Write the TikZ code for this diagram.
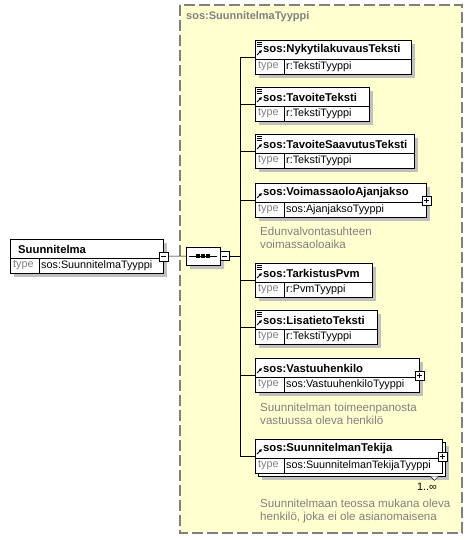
\documentclass[tikz,border=0pt]{standalone}
\usepackage{fontspec}
\setmainfont{Liberation Sans}
\usetikzlibrary{arrows.meta,shapes.misc}
\definecolor{schemayellow}{RGB}{255,255,208}
\definecolor{schemagray}{RGB}{128,128,128}
\definecolor{shadowgray}{RGB}{192,192,192}
% [style] name, x, y, width
\newcommand\schemaelem[5][elembox]{%
  \node[#1,minimum width=#5pt] (#2) at (#3,#4) {};
  \draw ([yshift=-19pt]#2.north west) -- ([yshift=-19pt]#2.north east);
  \draw ([shift={(29pt,-19pt)}]#2.north west) -- ([xshift=29pt]#2.south west);
}
% x, y, width
\newcommand\schemashadow[3]{%
  \fill[shadowgray] ({#1+4},{#2+4}) rectangle ++(#3,34);
}
\newcommand\schemalabels[3]{%
  \node[titletext] at ([shift={(8pt,-10pt)}]#1.north west) {#2};
  \node[typelabel] at ([shift={(3pt,-26.5pt)}]#1.north west) {type};
  \node[typetext] at ([shift={(31pt,-26.5pt)}]#1.north west) {#3};
}
\newcommand\simpleicon[1]{%
  \foreach \dy in {2,4,6}
    \draw[line width=0.7pt] ([shift={(2pt,-\dy pt)}]#1.north west) -- ++(5pt,0);
}
\newcommand\refarrow[1]{%
  \draw[line width=1pt,-{Latex[length=3pt,width=3.5pt]}] ([shift={(2pt,-15pt)}]#1.north west) -- ++(5pt,5pt);
}

\begin{document}
\begin{tikzpicture}[x=1pt,y=-1pt,line join=miter,
  elembox/.style={draw,fill=white,anchor=north west,minimum height=34pt,inner sep=0pt},
  titletext/.style={anchor=west,inner sep=0pt,font=\bfseries\fontsize{11.3}{13}\selectfont},
  typelabel/.style={anchor=west,inner sep=0pt,text=schemagray,font=\fontsize{10.8}{13}\selectfont},
  typetext/.style={anchor=west,inner sep=0pt,font=\fontsize{10.8}{13}\selectfont},
  doctext/.style={anchor=north west,inner sep=0pt,align=left,text=schemagray,font=\fontsize{11.6}{13}\selectfont},
  seqshape/.style={chamfered rectangle,chamfered rectangle xsep=5pt,minimum width=34pt,minimum height=18pt,inner sep=0pt},
  plusbox/.style={draw,fill=white,minimum size=9pt,inner sep=0pt,
    path picture={\draw[shorten <=2pt,shorten >=2pt] (path picture bounding box.west) -- (path picture bounding box.east);
                  \draw[shorten <=2pt,shorten >=2pt] (path picture bounding box.north) -- (path picture bounding box.south);}},
  minusbox/.style={draw,fill=white,minimum size=9pt,inner sep=0pt,
    path picture={\draw[shorten <=2pt,shorten >=2pt] (path picture bounding box.west) -- (path picture bounding box.east);}},
  container/.style={draw=schemagray,line width=1.2pt,dash pattern=on 11pt off 4pt,fill=schemayellow}]
\useasboundingbox (0,0) rectangle (473,540);

% complex type
\draw[container] (180,5) rectangle (462,533);
\node[anchor=west,inner sep=0pt,text=schemagray,font=\bfseries\fontsize{11}{13}\selectfont] (typename) at (186,17) {sos:SuunnitelmaTyyppi};

% root element
\schemashadow{10}{239}{153}
\schemaelem{suunn}{10}{239}{153}
\schemalabels{suunn}{Suunnitelma}{sos:SuunnitelmaTyyppi}
\node[minusbox] (sminus) at (suunn.east) {};

% sequence
\node[seqshape,fill=shadowgray] (seqshadow) at (207,260) {};
\node[seqshape,draw,fill=white] (seq) at (203,256) {};
\draw[shorten <=3pt,shorten >=3pt] (seq.west) -- (seq.east);
\foreach \dx in {-5,0,5}
  \fill ([xshift=\dx pt]seq.center) +(-1.6pt,-1.6pt) rectangle +(1.6pt,1.6pt);
\node[minusbox,anchor=west] (qminus) at (seq.east) {};
\coordinate (bus) at (240,256);
\draw (sminus) -- (seq);
\draw (qminus) -- (bus);

% children
\schemashadow{255}{40}{156}
\schemaelem{nyky}{255}{40}{156}
\schemalabels{nyky}{sos:NykytilakuvausTeksti}{r:TekstiTyyppi}
\schemashadow{255}{87}{114}
\schemaelem{tavoite}{255}{87}{114}
\schemalabels{tavoite}{sos:TavoiteTeksti}{r:TekstiTyyppi}
\schemashadow{255}{134}{159}
\schemaelem{saavutus}{255}{134}{159}
\schemalabels{saavutus}{sos:TavoiteSaavutusTeksti}{r:TekstiTyyppi}
\schemashadow{255}{183}{171}
\schemaelem{voimassa}{255}{183}{171}
\schemalabels{voimassa}{sos:VoimassaoloAjanjakso}{sos:AjanjaksoTyyppi}
\schemashadow{255}{263}{117}
\schemaelem{tarkistus}{255}{263}{117}
\schemalabels{tarkistus}{sos:TarkistusPvm}{r:PvmTyyppi}
\schemashadow{255}{310}{122}
\schemaelem{lisatieto}{255}{310}{122}
\schemalabels{lisatieto}{sos:LisatietoTeksti}{r:TekstiTyyppi}
\schemashadow{255}{358}{164}
\schemaelem{vastuu}{255}{358}{164}
\schemalabels{vastuu}{sos:Vastuuhenkilo}{sos:VastuuhenkiloTyyppi}
\schemashadow{258}{442}{187}
\node[elembox,minimum width=187pt] (tekijaback) at (258,442) {};
\draw[fill=white] ([xshift=-15pt]tekijaback.south east) -- ++(4pt,-4pt) -- ++(4pt,4pt);
\schemaelem{tekija}{255}{439}{187}
\schemalabels{tekija}{sos:SuunnitelmanTekija}{sos:SuunnitelmanTekijaTyyppi}

\foreach \n in {nyky,tavoite,saavutus,tarkistus,lisatieto} {\simpleicon{\n}}
\foreach \n in {nyky,tavoite,saavutus,voimassa,tarkistus,lisatieto,vastuu,tekija} {\refarrow{\n}}
\foreach \n in {voimassa,vastuu,tekija} {\node[plusbox] (\n plus) at (\n.east) {};}

% connectors
\draw (bus |- nyky.west) -- (bus |- tekija.west);
\foreach \n in {nyky,tavoite,saavutus,voimassa,tarkistus,lisatieto,vastuu,tekija}
  \draw (bus |- \n.west) -- (\n.west);

% annotations
\node[anchor=east,inner sep=0pt,font=\fontsize{10.8}{13}\selectfont] (tekijamult) at (437,487) {1..∞};
\node[doctext] (voimassadoc) at (260,227) {Edunvalvontasuhteen\\voimassaoloaika};
\node[doctext] (vastuudoc) at (260,403) {Suunnitelman toimeenpanosta\\vastuussa oleva henkilö};
\node[doctext] (tekijadoc) at (260,499) {Suunnitelmaan teossa mukana oleva\\henkilö, joka ei ole asianomaisena};
\end{tikzpicture}
\end{document}
